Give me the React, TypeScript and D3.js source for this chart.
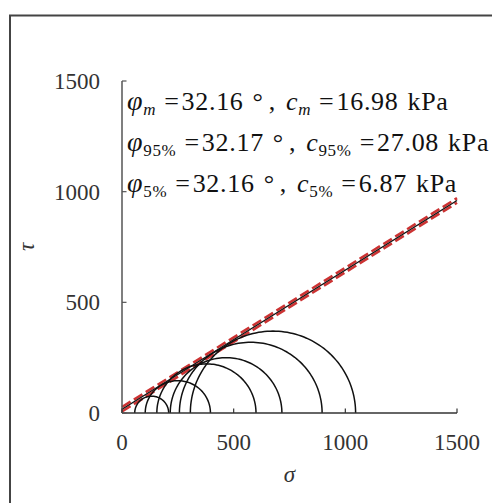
import React from "react";
import * as d3 from "d3";

// Mohr circles: minor / major principal stress of each test (kPa)
const sigma3 = [57, 104, 156, 216, 257, 306];
const sigma1 = [209, 396, 600, 716, 896, 1046];

// failure envelopes: mean, 95% and 5%
const fitNames = ["m", "95%", "5%"];
const fitPhi = [32.16, 32.17, 32.16];
const fitC = [16.98, 27.08, 6.87];

const xTicks = [0, 500, 1000, 1500];
const yTicks = [0, 500, 1000, 1500];

export default function App() {
  const svgRef = React.useRef<SVGSVGElement>(null);
  const width = 492;
  const height = 503;

  React.useEffect(() => {
    const svg = d3.select(svgRef.current);
    svg.selectAll("*").remove();
    const font = "'Liberation Serif', 'Times New Roman', serif";

    const x = d3.scaleLinear().domain([0, 1500]).range([122, 457]);
    const y = d3.scaleLinear().domain([0, 1500]).range([413, 81]);

    // outer frame
    svg.append("rect")
      .attr("x", 10).attr("y", 15.5)
      .attr("width", 520).attr("height", 520)
      .attr("fill", "none").attr("stroke", "#444").attr("stroke-width", 2);

    // envelopes tau = c + sigma * tan(phi)
    const env = (k: number) => (s: number) => fitC[k] + s * Math.tan(fitPhi[k] * Math.PI / 180);
    const sigmaRange = [0, 1500];
    [1, 2].forEach(k => {
      svg.append("path")
        .attr("d", d3.line<number>().x(s => x(s)).y(s => y(env(k)(s)))(sigmaRange))
        .attr("fill", "none")
        .attr("stroke", "#cc3333")
        .attr("stroke-width", 2.6)
        .attr("stroke-dasharray", "10,4");
    });
    svg.append("path")
      .attr("d", d3.line<number>().x(s => x(s)).y(s => y(env(0)(s)))(sigmaRange))
      .attr("fill", "none")
      .attr("stroke", "#111")
      .attr("stroke-width", 1.4);

    // Mohr circles (upper halves)
    const angles = d3.range(0, 181, 2).map(a => a * Math.PI / 180);
    sigma3.forEach((s3, i) => {
      const p = (s3 + sigma1[i]) / 2;
      const r = (sigma1[i] - s3) / 2;
      svg.append("path")
        .attr("d", d3.line<number>()
          .x(t => x(p + r * Math.cos(t)))
          .y(t => y(r * Math.sin(t)))(angles))
        .attr("fill", "none")
        .attr("stroke", "#111")
        .attr("stroke-width", 1.5);
    });

    // axes
    const axisColor = "#333";
    svg.append("line")
      .attr("x1", x(0)).attr("x2", x(1500))
      .attr("y1", y(0)).attr("y2", y(0))
      .attr("stroke", axisColor).attr("stroke-width", 1.5);
    svg.append("line")
      .attr("x1", x(0)).attr("x2", x(0))
      .attr("y1", y(0)).attr("y2", y(1500))
      .attr("stroke", "#555").attr("stroke-width", 1.5);

    svg.selectAll(".xtick").data(xTicks).enter().append("line")
      .attr("x1", d => x(d)).attr("x2", d => x(d))
      .attr("y1", y(0)).attr("y2", y(0) - 4.5)
      .attr("stroke", axisColor).attr("stroke-width", 1.2);
    svg.selectAll(".ytick").data(yTicks).enter().append("line")
      .attr("y1", d => y(d)).attr("y2", d => y(d))
      .attr("x1", x(0)).attr("x2", x(0) + 4.5)
      .attr("stroke", "#555").attr("stroke-width", 1.2);

    svg.selectAll(".xlab").data(xTicks).enter().append("text")
      .attr("x", d => x(d)).attr("y", 450)
      .attr("text-anchor", "middle")
      .attr("font-family", font).attr("font-size", 23)
      .attr("fill", "#333")
      .text(d => d);
    svg.selectAll(".ylab").data(yTicks).enter().append("text")
      .attr("x", 100).attr("y", d => y(d) + 8)
      .attr("text-anchor", "end")
      .attr("font-family", font).attr("font-size", 23)
      .attr("fill", "#333")
      .text(d => d);

    svg.append("text")
      .attr("x", (x(0) + x(1500)) / 2).attr("y", 482)
      .attr("text-anchor", "middle")
      .attr("font-family", font).attr("font-size", 23)
      .attr("font-style", "italic").attr("fill", "#333")
      .text("σ");
    svg.append("text")
      .attr("transform", `translate(34, ${(y(0) + y(1500)) / 2}) rotate(-90)`)
      .attr("text-anchor", "middle")
      .attr("font-family", font).attr("font-size", 23)
      .attr("font-style", "italic").attr("fill", "#333")
      .text("τ");

    // annotation
    const lineY = [110, 151, 192];
    fitNames.forEach((name, k) => {
      const t = svg.append("text")
        .attr("x", 127).attr("y", lineY[k])
        .attr("font-family", font).attr("font-size", 26)
        .attr("letter-spacing", 0.7)
        .attr("fill", "#111");
      const subStyle = name === "m" ? "italic" : "normal";
      t.append("tspan").attr("font-style", "italic").attr("font-size", 28).text("φ");
      t.append("tspan").attr("font-size", 17).attr("dy", 5)
        .attr("font-style", subStyle).text(name);
      t.append("tspan").attr("dy", -5).attr("dx", 8).text("=");
      t.append("tspan").attr("dx", 2).text(fitPhi[k].toFixed(2));
      t.append("tspan").attr("dx", 9).text("°");
      t.append("tspan").attr("dx", 5).text(",");
      t.append("tspan").attr("dx", 10).attr("font-style", "italic").text("c");
      t.append("tspan").attr("font-size", 17).attr("dy", 5)
        .attr("font-style", subStyle).text(name);
      t.append("tspan").attr("dy", -5).attr("dx", 8).text("=");
      t.append("tspan").attr("dx", 2).text(fitC[k].toFixed(2));
      t.append("tspan").attr("dx", 9).text("kPa");
    });
  }, []);

  return (
    <svg
      ref={svgRef}
      width={width}
      height={height}
      style={{ position: "absolute", left: 0, top: 0, background: "#fff" }}
    />
  );
}
